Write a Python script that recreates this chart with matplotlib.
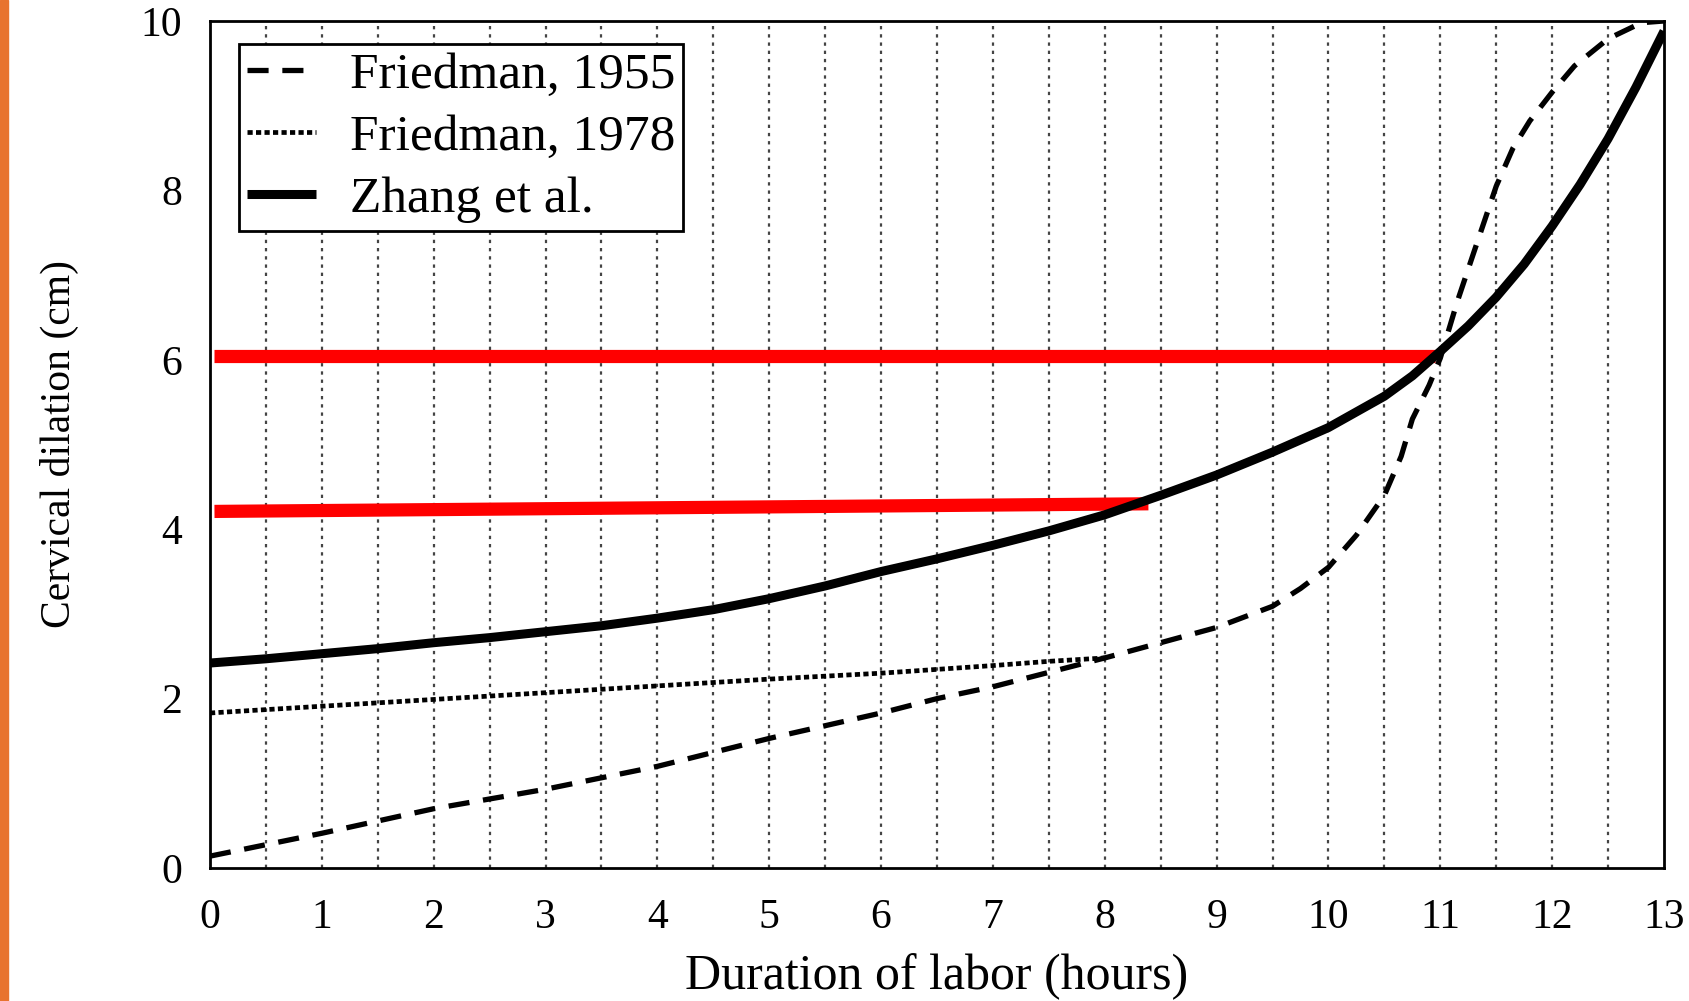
import matplotlib.pyplot as plt
from matplotlib.patches import Rectangle

plt.rcParams['font.family'] = ['Liberation Serif', 'DejaVu Serif']

# Zhang et al. (solid)
hours_zhang = [0, 0.5, 1, 1.5, 2, 2.5, 3, 3.5, 4, 4.5, 5, 5.5, 6, 6.5, 7, 7.5, 8, 8.5,
               9, 9.5, 10, 10.5, 10.75, 11, 11.25, 11.5, 11.75, 12, 12.25, 12.5, 12.75, 13]
zhang = [2.42, 2.47, 2.53, 2.59, 2.66, 2.72, 2.79, 2.86, 2.95, 3.05, 3.18, 3.33, 3.50, 3.65,
         3.81, 3.98, 4.17, 4.40, 4.64, 4.91, 5.20, 5.57, 5.81, 6.10, 6.40, 6.74, 7.13, 7.58,
         8.07, 8.61, 9.22, 9.88]

# Friedman 1955 (dashed)
hours_1955 = [0, 1, 2, 3, 4, 5, 6, 6.5, 7, 7.5, 8, 8.5, 9, 9.5, 9.75, 10, 10.25, 10.5,
              10.65, 10.75, 10.9, 11, 11.15, 11.3, 11.5, 11.65, 11.8, 12, 12.2, 12.5, 12.8, 13]
f1955 = [0.14, 0.41, 0.70, 0.93, 1.20, 1.53, 1.83, 2.00, 2.14, 2.31, 2.48, 2.66, 2.84, 3.09,
         3.30, 3.55, 3.93, 4.40, 4.86, 5.30, 5.70, 6.02, 6.68, 7.27, 8.05, 8.50, 8.82, 9.16,
         9.47, 9.79, 9.98, 10.0]

# Friedman 1978 (dotted)
hours_1978 = [0, 1, 2, 3, 4, 5, 6, 7, 7.5, 8]
f1978 = [1.83, 1.91, 1.99, 2.07, 2.15, 2.23, 2.30, 2.39, 2.44, 2.48]

# red marker lines
red1_x = [0.04, 10.95]
red1_y = [6.05, 6.05]
red2_x = [0.04, 8.39]
red2_y = [4.21, 4.30]

x_ticks = list(range(0, 14))
y_ticks = [0, 2, 4, 6, 8, 10]
grid_x = [i * 0.5 for i in range(1, 26)]

fig = plt.figure(figsize=(16.89, 10.01), dpi=100)
fig.patches.append(Rectangle((0, 0), 8 / 1689, 1, transform=fig.transFigure,
                             color='#E8732F', zorder=0))
ax = fig.add_axes([210 / 1689, 1 - 868 / 1001, 1454 / 1689, 847 / 1001])

for gx in grid_x:
    ax.axvline(gx, color='#444444', lw=1.6, linestyle=(0, (1.5, 2.2)), zorder=1)

ax.plot(red1_x, red1_y, color='#FF0000', lw=9.5, solid_capstyle='butt', zorder=2)
ax.plot(red2_x, red2_y, color='#FF0000', lw=9.5, solid_capstyle='butt', zorder=2)

ax.plot(hours_1955, f1955, color='black', lw=3.8, linestyle=(0, (4.0, 2.6)),
        label='Friedman, 1955', zorder=3)
ax.plot(hours_1978, f1978, color='black', lw=3.4, linestyle=(0, (1.1, 0.7)),
        label='Friedman, 1978', zorder=3)
ax.plot(hours_zhang, zhang, color='black', lw=6.5, solid_capstyle='butt',
        label='Zhang et al.', zorder=3)

ax.set_xlim(0, 13)
ax.set_ylim(0, 10)
ax.set_xticks(x_ticks)
ax.set_yticks(y_ticks)
ax.tick_params(length=0, labelsize=30)
ax.tick_params(axis='y', pad=20)
ax.tick_params(axis='x', pad=22)
for s in ax.spines.values():
    s.set_linewidth(2)
    s.set_color('black')

ax.set_xlabel('Duration of labor (hours)', fontsize=36, labelpad=12)
ax.set_ylabel('Cervical dilation (cm)', fontsize=30, labelpad=44)

leg = ax.legend(loc='upper left', bbox_to_anchor=(0.02, 0.973), borderaxespad=0,
                fontsize=37, handlelength=1.35, handletextpad=0.65, labelspacing=0.3,
                borderpad=0.15, fancybox=False, framealpha=1, edgecolor='black')
leg.get_frame().set_linewidth(2)

fig.savefig('out.png', dpi=100)
